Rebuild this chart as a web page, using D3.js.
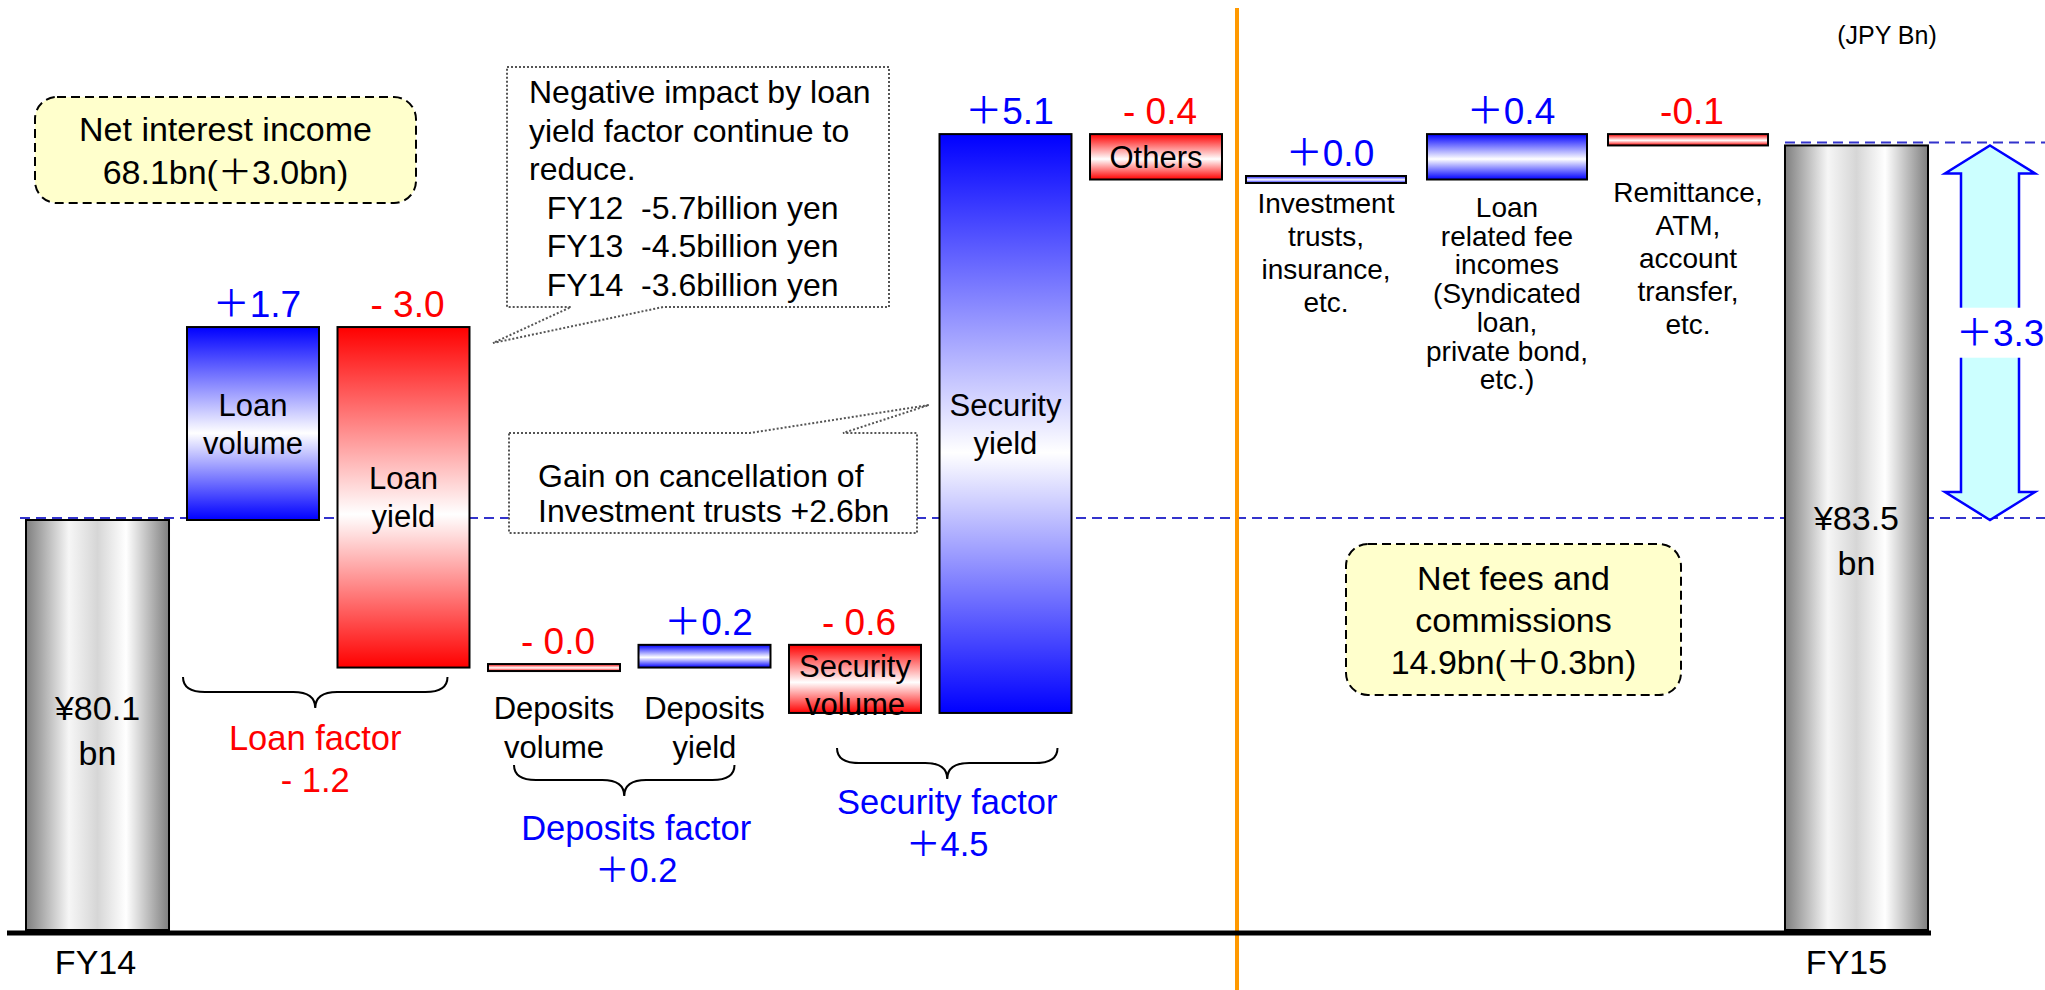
<!DOCTYPE html>
<html>
<head>
<meta charset="utf-8">
<script src="https://cdn.jsdelivr.net/npm/d3@7"></script>
<style>
html, body { margin: 0; padding: 0; background: #fff; }
svg { display: block; font-family: "Liberation Sans", Arial, "Noto Sans CJK JP", sans-serif; }
</style>
</head>
<body>
<svg id="chart" width="2045" height="990"></svg>
<script>
// values (JPY bn)
const totalNames = ["FY14", "FY15"];
const totalLabels = ["¥80.1\nbn", "¥83.5\nbn"];
const startValue = 80.1;
const totalChange = 3.3;
const totalChangeLabel = "＋3.3";

const interestSteps = ["Loan\nvolume", "Loan\nyield", "Deposits\nvolume", "Deposits\nyield", "Security\nvolume", "Security\nyield", "Others"];
const interestValues = [1.7, -3.0, -0.0, 0.2, -0.6, 5.1, -0.4];
const interestValueLabels = ["＋1.7", "- 3.0", "- 0.0", "＋0.2", "- 0.6", "＋5.1", "- 0.4"];

const feeSteps = ["Investment\ntrusts,\ninsurance,\netc.",
  "Loan\nrelated fee\nincomes\n(Syndicated\nloan,\nprivate bond,\netc.)",
  "Remittance,\nATM,\naccount\ntransfer,\netc."];
const feeValues = [0.0, 0.4, -0.1];
const feeValueLabels = ["＋0.0", "＋0.4", "-0.1"];

const factorNames = ["Loan factor", "Deposits factor", "Security factor"];
const factorValueLabels = ["- 1.2", "＋0.2", "＋4.5"];
const factorMembers = [[0, 1], [2, 3], [4, 5]];

const netInterestText = ["Net interest income", "68.1bn(＋3.0bn)"];
const netFeesText = ["Net fees and", "commissions", "14.9bn(＋0.3bn)"];
const noteLoanYield = ["Negative impact by loan", "yield factor continue to", "reduce.",
  "  FY12  -5.7billion yen", "  FY13  -4.5billion yen", "  FY14  -3.6billion yen"];
const noteSecurity = ["Gain on cancellation of", "Investment trusts +2.6bn"];
const unitText = "(JPY Bn)";

const BLUE = "#0000ff", RED = "#ff0000";
const isNeg = v => v < 0 || Object.is(v, -0);

const svg = d3.select("#chart");
const defs = svg.append("defs");

function vGrad(id, c) {
  const g = defs.append("linearGradient").attr("id", id)
    .attr("x1", 0).attr("y1", 0).attr("x2", 0).attr("y2", 1);
  [[0, c], [0.55, "#ffffff"], [1, c]].forEach(s =>
    g.append("stop").attr("offset", s[0]).attr("stop-color", s[1]));
}
vGrad("gBlue", BLUE);
vGrad("gRed", RED);
const gg = defs.append("linearGradient").attr("id", "gGray")
  .attr("x1", 0).attr("y1", 0).attr("x2", 1).attr("y2", 0);
[[0, "#7f7f7f"], [0.3, "#f6f6f6"], [0.5, "#d6d6d6"], [0.7, "#ffffff"], [1, "#7f7f7f"]].forEach(s =>
  gg.append("stop").attr("offset", s[0]).attr("stop-color", s[1]));

// text helper, yFirst = vertical middle of first line
function addLines(g, lines, x, yFirst, lh, fs, fill, anchor) {
  const t = g.append("text").attr("font-size", fs).attr("fill", fill || "#000")
    .attr("text-anchor", anchor || "middle").style("white-space", "pre");
  lines.forEach((l, i) => t.append("tspan").attr("x", x).attr("y", yFirst + i * lh + fs * 0.36).text(l));
  return t;
}
function centered(g, lines, x, yc, lh, fs, fill) {
  return addLines(g, lines, x, yc - (lines.length - 1) * lh / 2, lh, fs, fill);
}

// scales
const y = d3.scaleLinear().domain([startValue, startValue + totalChange]).range([520, 145.45]);
const axisY = 930;
const xInt = d3.scaleBand().domain(interestSteps).range([187, 1222]).paddingInner(0.123);
const xFee = d3.scaleBand().domain(feeSteps).range([1246, 1768]).paddingInner(0.116);
const xTot = d3.scaleBand().domain(totalNames).range([26, 1928]).paddingInner(0.9187);

// waterfall steps
let level = startValue;
const steps = [];
interestSteps.forEach((name, i) => {
  const v = interestValues[i];
  steps.push({ name, v, label: interestValueLabels[i], from: level, to: level + v, x: xInt(name), w: xInt.bandwidth(), sec: "int", i });
  level += v;
});
feeSteps.forEach((name, i) => {
  const v = feeValues[i];
  steps.push({ name, v, label: feeValueLabels[i], from: level, to: level + v, x: xFee(name), w: xFee.bandwidth(), sec: "fee", i });
  level += v;
});
const endLevel = level;
steps.forEach(d => {
  d.top = y(Math.max(d.from, d.to));
  d.bot = y(Math.min(d.from, d.to));
  if (d.bot - d.top < 7) { const c = y(d.to); d.top = c - 3.5; d.bot = c + 3.5; }
});

// reference lines
svg.append("line").attr("x1", 20).attr("x2", 2045).attr("y1", y(startValue) - 2).attr("y2", y(startValue) - 2)
  .attr("stroke", "#3333cc").attr("stroke-width", 2).attr("stroke-dasharray", "10 6");
svg.append("line").attr("x1", xTot("FY15")).attr("x2", 2045).attr("y1", y(endLevel) - 3).attr("y2", y(endLevel) - 3)
  .attr("stroke", "#3333cc").attr("stroke-width", 2).attr("stroke-dasharray", "10 6");

// divider
const divX = (xInt.range()[1] + xFee.range()[0]) / 2 + 3;
svg.append("line").attr("x1", divX).attr("x2", divX).attr("y1", 8).attr("y2", 990)
  .attr("stroke", "#ff9900").attr("stroke-width", 4);

// total bars
const totVals = [startValue, endLevel];
svg.selectAll("rect.tot").data(totalNames).enter().append("rect").attr("class", "tot")
  .attr("x", d => xTot(d)).attr("width", xTot.bandwidth())
  .attr("y", (d, i) => y(totVals[i])).attr("height", (d, i) => axisY - y(totVals[i]))
  .attr("fill", "url(#gGray)").attr("stroke", "#000").attr("stroke-width", 2);

// step bars
svg.selectAll("rect.step").data(steps).enter().append("rect").attr("class", "step")
  .attr("x", d => d.x).attr("width", d => d.w)
  .attr("y", d => d.top).attr("height", d => d.bot - d.top)
  .attr("fill", d => isNeg(d.v) ? "url(#gRed)" : "url(#gBlue)")
  .attr("stroke", "#000").attr("stroke-width", 2);

// value labels
steps.forEach(d => {
  svg.append("text").attr("x", d.x + d.w / 2 + 4).attr("y", d.top - 10)
    .attr("text-anchor", "middle").attr("font-size", 37)
    .attr("fill", isNeg(d.v) ? RED : BLUE).text(d.label);
});

// category labels
const feeFirstY = [203, 207, 192], feeLh = [33, 28.7, 33];
steps.forEach(d => {
  const lines = d.name.split("\n");
  if (d.sec === "int") {
    if (d.bot - d.top > 40) {
      centered(svg, lines, d.x + d.w / 2, (d.top + d.bot) / 2 + (d.i === 4 ? 6 : 0), 38, 31);
    } else {
      addLines(svg, lines, d.x + d.w / 2, 708, 39, 31);
    }
  } else {
    addLines(svg, lines, d.x + d.w / 2, feeFirstY[d.i], feeLh[d.i], 28);
  }
});

// braces for factors
const braceOff = [[-4, -22], [26, -36], [48, -14]];
const braceTop = [677, 765, 748];
const labelGap = [30, 32, 23];
factorNames.forEach((name, k) => {
  const a = steps[factorMembers[k][0]], b = steps[factorMembers[k][1]];
  const x0 = a.x + braceOff[k][0], x1 = b.x + b.w + braceOff[k][1];
  const cx = (x0 + x1) / 2, t = braceTop[k], m = t + 15, tip = t + 31, r = 22;
  const p = d3.path();
  p.moveTo(x0, t);
  p.quadraticCurveTo(x0, m, x0 + r, m);
  p.lineTo(cx - r, m);
  p.quadraticCurveTo(cx, m, cx, tip);
  p.quadraticCurveTo(cx, m, cx + r, m);
  p.lineTo(x1 - r, m);
  p.quadraticCurveTo(x1, m, x1, t);
  svg.append("path").attr("d", p.toString()).attr("fill", "none").attr("stroke", "#000").attr("stroke-width", 2);
  const col = factorValueLabels[k].trim().startsWith("-") ? RED : BLUE;
  addLines(svg, [name, factorValueLabels[k]], cx + (k === 1 ? 12 : 0), tip + labelGap[k], 42, 34.5, col);
});

// callouts
function callout(pts) {
  svg.append("path").attr("d", d3.line()(pts) + "Z").attr("fill", "#fff")
    .attr("stroke", "#555").attr("stroke-width", 2).attr("stroke-dasharray", "2 2");
}
callout([[507, 67], [889, 67], [889, 307], [663, 307], [493, 343], [571, 307], [507, 307]]);
noteLoanYield.forEach((l, i) => {
  svg.append("text").attr("x", 529).attr("y", 103 + i * 38.5).attr("font-size", 32)
    .style("white-space", "pre").text(l);
});
callout([[509, 433], [750, 433], [929, 405], [843, 433], [917, 433], [917, 533], [509, 533]]);
noteSecurity.forEach((l, i) => {
  svg.append("text").attr("x", 538).attr("y", 487 + i * 35).attr("font-size", 32).text(l);
});

// summary boxes
function noteBox(x0, y0, w, h, lines, lh) {
  svg.append("rect").attr("x", x0).attr("y", y0).attr("width", w).attr("height", h).attr("rx", 22)
    .attr("fill", "#ffffcc").attr("stroke", "#000").attr("stroke-width", 2).attr("stroke-dasharray", "9 5");
  centered(svg, lines, x0 + w / 2, y0 + h / 2, lh, 34);
}
noteBox(35, 97, 381, 106, netInterestText, 43);
noteBox(1346, 544, 335, 151, netFeesText, 42);

// total change arrow
const ax = 1990, yT = y(endLevel), yB = y(startValue), hw = 45, sw = 29, hl = 28;
svg.append("path").attr("d", d3.line()([[ax, yT], [ax + hw, yT + hl], [ax + sw, yT + hl], [ax + sw, yB - hl],
  [ax + hw, yB - hl], [ax, yB], [ax - hw, yB - hl], [ax - sw, yB - hl], [ax - sw, yT + hl], [ax - hw, yT + hl]]) + "Z")
  .attr("fill", "#ccffff").attr("stroke", BLUE).attr("stroke-width", 2.5);
const am = (yT + yB) / 2;
svg.append("rect").attr("x", 1954).attr("y", am - 25).attr("width", 95).attr("height", 50).attr("fill", "#fff");
svg.append("text").attr("x", 1956).attr("y", am + 13).attr("font-size", 37).attr("fill", BLUE).text(totalChangeLabel);

// total labels
totalNames.forEach((n, i) => {
  const cx = xTot(n) + xTot.bandwidth() / 2;
  const yc = i === 0 ? (y(totVals[i]) + axisY) / 2 + 5 : y(startValue) + 20;
  centered(svg, totalLabels[i].split("\n"), cx, yc, 45, 34);
  svg.append("text").attr("x", cx - (i === 0 ? 2 : 10)).attr("y", 962 + 12).attr("text-anchor", "middle")
    .attr("font-size", 34).text(n);
});

// base line
svg.append("line").attr("x1", 7).attr("x2", xTot("FY15") + xTot.bandwidth() + 3)
  .attr("y1", axisY + 3).attr("y2", axisY + 3).attr("stroke", "#000").attr("stroke-width", 5);

svg.append("text").attr("x", 1887).attr("y", 35 + 9).attr("text-anchor", "middle")
  .attr("font-size", 25).text(unitText);
</script>
</body>
</html>
